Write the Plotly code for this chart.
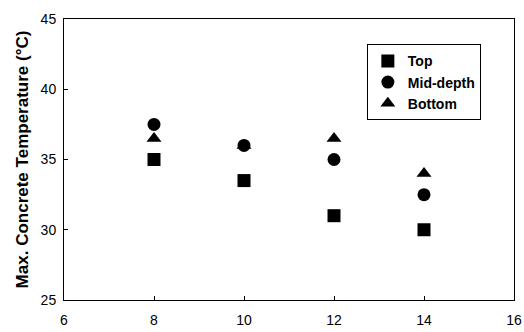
import plotly.graph_objects as go

x_vals = [8, 10, 12, 14]
top = [35.0, 33.5, 31.0, 30.0]
mid = [37.5, 36.0, 35.0, 32.5]
bottom = [36.5, 36.0, 36.5, 34.0]
series_names = ["Top", "Mid-depth", "Bottom"]
x_ticks = [6, 8, 10, 12, 14, 16]
y_ticks = [25, 30, 35, 40, 45]

fig = go.Figure()
symbols = ["square", "circle", "triangle-up"]
for name, vals, sym in zip(series_names, [top, mid, bottom], symbols):
    fig.add_trace(go.Scatter(
        x=x_vals, y=vals, mode="markers", name=name,
        marker=dict(symbol=sym, size=13, color="black", line=dict(width=0)),
    ))

font_family = "Liberation Sans, Arial"
axis_common = dict(
    showline=True, linecolor="black", linewidth=1, mirror=True,
    ticks="inside", ticklen=4, tickcolor="black", tickwidth=1,
    showgrid=False, zeroline=False, automargin=False,
    tickfont=dict(family=font_family, size=14, color="black"),
)

fig.update_layout(
    width=524, height=332,
    margin=dict(l=64, r=10, t=19, b=32),
    paper_bgcolor="white", plot_bgcolor="white",
    xaxis=dict(range=[6, 16], tickvals=x_ticks, ticklabelstandoff=7, **axis_common),
    yaxis=dict(range=[25, 45], tickvals=y_ticks, ticklabelstandoff=4,
               title=dict(text="<b>Max. Concrete Temperature (°C)</b>",
                          font=dict(family=font_family, size=17, color="black"),
                          standoff=7),
               **axis_common),
    legend=dict(
        x=0.673, y=0.91, xanchor="left", yanchor="top",
        bordercolor="black", borderwidth=1, bgcolor="white",
        font=dict(family=font_family, size=14, color="black", weight="bold"),
        itemwidth=30, tracegroupgap=0,
    ),
    showlegend=True,
)

fig.write_html("out.html")
